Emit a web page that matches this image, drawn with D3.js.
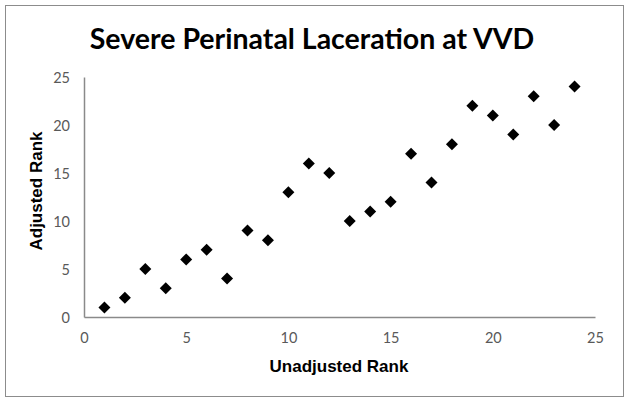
<!DOCTYPE html>
<html>
<head>
<meta charset="utf-8">
<script src="https://cdn.jsdelivr.net/npm/d3@7"></script>
<style>
  body { margin: 0; background: #fff; }
  svg { display: block; }
</style>
</head>
<body>
<svg id="chart" width="629" height="402"></svg>
<script>
const width = 629;
const height = 402;

const unadjusted = [1, 2, 3, 4, 5, 6, 7, 8, 9, 10, 11, 12, 13, 14, 15, 16, 17, 18, 19, 20, 21, 22, 23, 24];
const adjusted = [1, 2, 5, 3, 6, 7, 4, 9, 8, 13, 16, 15, 10, 11, 12, 17, 14, 18, 22, 21, 19, 23, 20, 24];
const xTicks = [0, 5, 10, 15, 20, 25];
const yTicks = [0, 5, 10, 15, 20, 25];

const svg = d3.select("#chart");

// chart frame
svg.append("rect")
    .attr("x", 5.5).attr("y", 5.5)
    .attr("width", 618).attr("height", 391)
    .attr("fill", "#fff")
    .attr("stroke", "#8c8c8c")
    .attr("stroke-width", 1);

const x = d3.scaleLinear().domain([0, 25]).range([84, 595]);
const y = d3.scaleLinear().domain([0, 25]).range([317, 77]);

// title
svg.append("text")
    .attr("x", 312)
    .attr("y", 49)
    .attr("text-anchor", "middle")
    .attr("font-family", "Lato, 'Open Sans', sans-serif")
    .attr("font-weight", "bold")
    .attr("font-size", "28.5px")
    .attr("fill", "#000")
    .text("Severe Perinatal Laceration at VVD");

// axes
const xAxis = svg.append("g")
    .attr("transform", `translate(0,${y(0)})`)
    .call(d3.axisBottom(x).tickValues(xTicks).tickSize(0).tickPadding(16));

const yAxis = svg.append("g")
    .attr("transform", `translate(${x(0)},0)`)
    .call(d3.axisLeft(y).tickValues(yTicks).tickSize(0).tickPadding(14));

[xAxis, yAxis].forEach(g => {
    g.select(".domain").attr("stroke", "#8a8a8a").attr("stroke-width", 1.5);
    g.selectAll("text")
        .attr("font-family", "Lato, 'Open Sans', sans-serif")
        .attr("font-size", "14.5px")
        .attr("fill", "#595959");
});
yAxis.selectAll("text").attr("dy", "0.35em");

// axis titles
svg.append("text")
    .attr("x", 339)
    .attr("y", 372)
    .attr("text-anchor", "middle")
    .attr("font-family", "'Liberation Sans', Arial, sans-serif")
    .attr("font-weight", "bold")
    .attr("font-size", "17px")
    .text("Unadjusted Rank");

svg.append("text")
    .attr("transform", `translate(42,191) rotate(-90)`)
    .attr("text-anchor", "middle")
    .attr("font-family", "'Liberation Sans', Arial, sans-serif")
    .attr("font-weight", "bold")
    .attr("font-size", "17px")
    .text("Adjusted Rank");

// diamond markers
const diamond = d3.symbol().type(d3.symbolSquare).size(72);

svg.append("g")
    .selectAll("path")
    .data(unadjusted.map((u, i) => ({ u: u, a: adjusted[i] })))
    .enter().append("path")
    .attr("d", diamond)
    .attr("transform", d => `translate(${x(d.u)},${y(d.a)}) rotate(45)`)
    .attr("fill", "#000");
</script>
</body>
</html>
